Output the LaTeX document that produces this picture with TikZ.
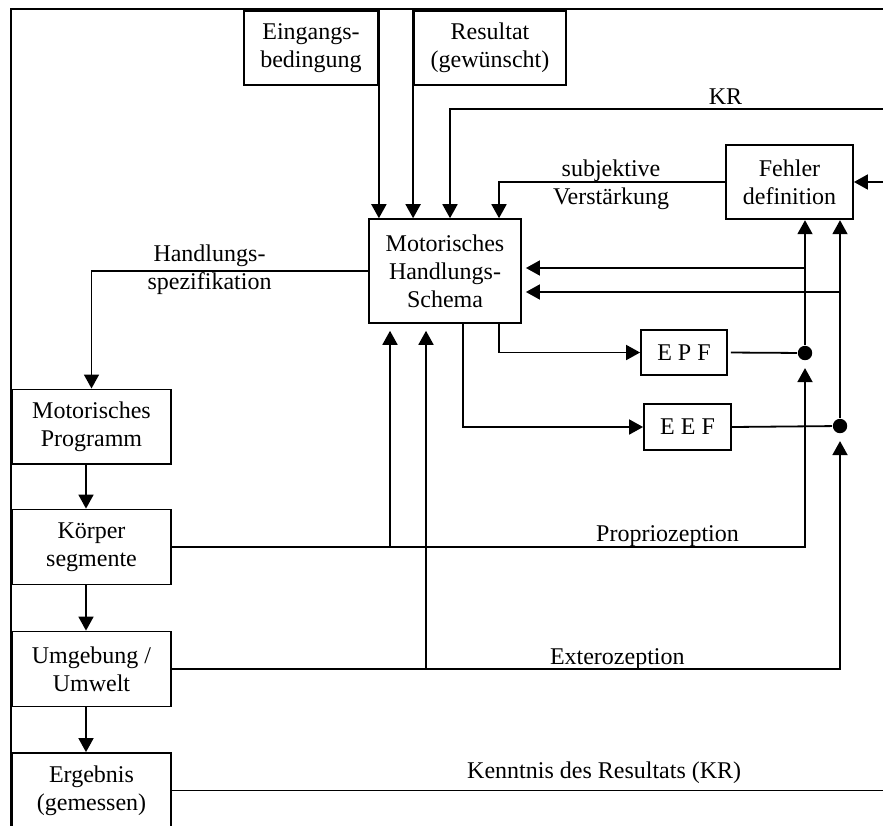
\documentclass[tikz,border=0pt]{standalone}
\usepackage{fontspec}
\setmainfont{Liberation Serif}
\usetikzlibrary{arrows.meta}
\begin{document}
\begin{tikzpicture}[x=0.5pt,y=-0.5pt,
  line width=0.9pt,
  every node/.style={font=\fontsize{12pt}{14pt}\selectfont, inner sep=0pt},
  box/.style={draw, align=center},
  arr/.style={-{Triangle[width=7.5pt,length=7pt]}},
  dot/.style={circle, fill, minimum size=7.2pt},
  lbl/.style={align=center}
]
\useasboundingbox (0,0) rectangle (883,825);
\clip (0,0) rectangle (883,825);

% outer frame (left and top edge)
\draw[line width=1.3pt] (11,830) -- (11,9) -- (890,9);

% boxes
\node[box, minimum width=67pt, minimum height=37.2pt] (ein) at (311,48) {Eingangs-\\bedingung};
\node[box, minimum width=76pt, minimum height=37.2pt] (res) at (490,48) {Resultat\\(gewünscht)};
\node[box, minimum width=63.5pt, minimum height=37.3pt] (fehl) at (789.5,182) {Fehler\\definition};
\node[box, minimum width=76pt, minimum height=51.9pt] (schema) at (445,271) {Motorisches\\Handlungs-\\Schema};
\node[box, minimum width=43pt, minimum height=22.8pt] (epf) at (684,352.5) {E P F};
\node[box, minimum width=43.5pt, minimum height=22.8pt] (eef) at (687.5,427) {E E F};
\node[box, minimum width=79.5pt, minimum height=37.3pt] (prog) at (91.5,426.7) {Motorisches\\Programm};
\node[box, minimum width=79.5pt, minimum height=37.5pt] (koerp) at (91.5,547) {Körper\\segmente};
\node[box, minimum width=79.5pt, minimum height=37.5pt] (umg) at (91.5,669) {Umgebung /\\Umwelt};
\node[box, minimum width=79.5pt, minimum height=37.5pt] (erg) at (91.5,790.5) {Ergebnis\\(gemessen)};

% junction dots
\node[dot] (d1) at (805,353) {};
\node[dot] (d2) at (840,426) {};

% free ends at the right border
\coordinate (krin) at (883,109);
\coordinate (fin) at (883,182);
\coordinate (kout) at (883,790);

% attachment points on the schema box
\coordinate (sb1) at ([xshift=-27.5pt]schema.south);
\coordinate (sb2) at ([xshift=-9.5pt]schema.south);
\coordinate (sb3) at ([xshift=27pt]schema.south);
\coordinate (sb4) at ([xshift=9pt]schema.south);
\coordinate (se1) at ([yshift=1.5pt]schema.east);
\coordinate (se2) at ([yshift=-10.5pt]schema.east);

% inputs from the top
\draw[arr] (ein.north east) -- (ein.north east |- schema.north);
\draw[arr] (res.north west) -- (res.north west |- schema.north);
\draw[arr] (krin) -| ([xshift=2.5pt]schema.north);
\draw[arr] (fehl.west) -| ([xshift=27pt]schema.north);
\draw[arr] (fin) -- (fehl.east);

% action chain on the left
\draw[arr] (schema.west) -| (prog.north);
\draw[arr] ([xshift=-2.75pt]prog.south) -- ([xshift=-2.75pt]koerp.north);
\draw[arr] ([xshift=-2.75pt]koerp.south) -- ([xshift=-2.75pt]umg.north);
\draw[arr] ([xshift=-2.75pt]umg.south) -- ([xshift=-2.75pt]erg.north);

% feedback paths
\draw[arr] (koerp.east) -| ([yshift=-3.5pt]d1.south);
\draw[arr, shorten >=3.5pt] (sb1 |- koerp.east) -- (sb1);
\draw[arr] (umg.east) -| ([yshift=-3.5pt]d2.south);
\draw[arr, shorten >=3.5pt] (sb2 |- umg.east) -- (sb2);
\draw (erg.east) -- (erg.east -| kout);

% expected feedback
\draw[arr] (sb3) |- (epf.west);
\draw[arr] (sb4) |- (eef.west);
\draw[shorten <=1.5pt] (epf.east) -- (d1);
\draw (eef.east) -- (d2);
\draw[arr] (d1) -- (d1 |- fehl.south);
\draw[arr] (d2) -- (d2 |- fehl.south);
\draw[arr, shorten >=2pt] (d1 |- se1) -- (se1);
\draw[arr, shorten >=2pt] (d2 |- se2) -- (se2);

% labels
\node[anchor=base] (lkr) at (725.5,104) {KR};
\node[anchor=base] (lprop) at (667.5,541.7) {Propriozeption};
\node[anchor=base] (lext) at (617.3,664.3) {Exterozeption};
\node[anchor=base] (lken) at (604.2,778.3) {Kenntnis des Resultats (KR)};
\node[lbl] (lsub) at (611,185) {subjektive\\Verstärkung};
\node[lbl] (lhand) at (209.5,270) {Handlungs-\\spezifikation};
\end{tikzpicture}
\end{document}
